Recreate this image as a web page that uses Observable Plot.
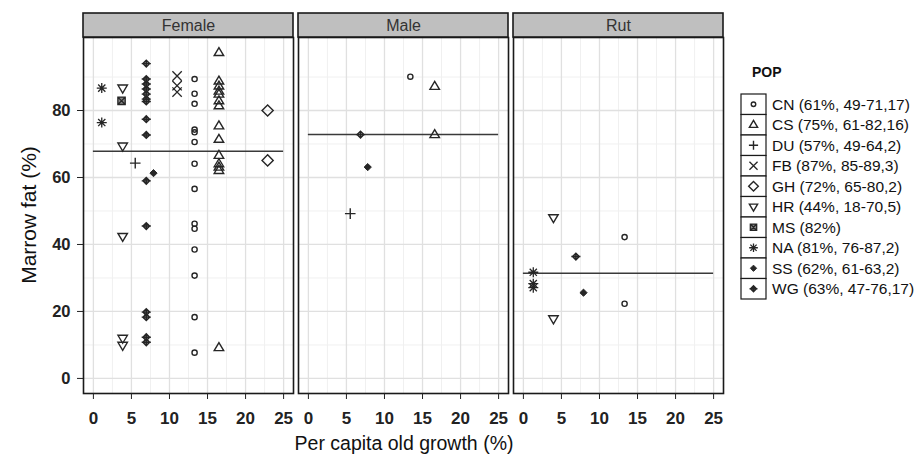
<!DOCTYPE html>
<html><head><meta charset="utf-8">
<script src="https://cdn.jsdelivr.net/npm/d3@7"></script>
<script src="https://cdn.jsdelivr.net/npm/@observablehq/plot@0.6"></script>
<style>
body{margin:0;background:#fff;font-family:"Liberation Sans",Arial,sans-serif;}
#wrap{position:relative;width:922px;height:461px;}
#legend{position:absolute;left:735px;top:0;}
</style></head><body><div id="wrap"></div>
<script>
// ---- data ----
const sexes = ["Female", "Male", "Rut"];
const popCodes = ["CN", "CS", "DU", "FB", "GH", "HR", "MS", "NA", "SS", "WG"];
const popLabels = ["CN (61%, 49-71,17)", "CS (75%, 61-82,16)", "DU (57%, 49-64,2)", "FB (87%, 85-89,3)",
  "GH (72%, 65-80,2)", "HR (44%, 18-70,5)", "MS (82%)", "NA (81%, 76-87,2)", "SS (62%, 61-63,2)", "WG (63%, 47-76,17)"];
const CN = [["Female",13.3,89.4],["Female",13.3,85],["Female",13.3,82],["Female",13.3,74.3],["Female",13.3,73.5],
  ["Female",13.3,70.6],["Female",13.3,64.1],["Female",13.3,56.6],["Female",13.3,46.2],["Female",13.3,44.7],
  ["Female",13.3,38.5],["Female",13.3,30.7],["Female",13.3,18.3],["Female",13.3,7.7],
  ["Male",13.4,90.1],["Rut",13.3,42.2],["Rut",13.3,22.3]];
const CS = [["Female",16.5,97.3],["Female",16.5,88.8],["Female",16.5,87.3],["Female",16.5,85.8],["Female",16.5,84.9],
  ["Female",16.5,82.9],["Female",16.5,81.4],["Female",16.5,75.4],["Female",16.5,71.4],["Female",16.5,66.6],
  ["Female",16.5,64.1],["Female",16.5,63.1],["Female",16.5,62.1],["Female",16.5,9.2],
  ["Male",16.6,87.2],["Male",16.6,72.8]];
const DU = [["Female",5.5,64.3],["Male",5.5,49.2]];
const FB = [["Female",11.0,90.3],["Female",11.0,87.4],["Female",11.0,85.5]];
const GH = [["Female",22.9,80],["Female",22.9,65.1]];
const HR = [["Female",3.85,86.7],["Female",3.85,69.4],["Female",3.85,42.4],["Female",3.85,12],["Female",3.85,9.9],
  ["Rut",3.95,48],["Rut",3.95,17.8]];
const MS = [["Female",3.7,82.9]];
const NA = [["Female",1.1,86.7],["Female",1.1,76.4],["Rut",1.3,31.7],["Rut",1.3,28.3],["Rut",1.3,27.1]];
const SS = [["Female",7.9,61.3],["Male",7.8,63.1],["Rut",7.9,25.6]];
const WG = [["Female",6.95,94],["Female",6.95,89.4],["Female",6.95,87.9],["Female",6.95,86.4],["Female",6.95,84.9],
  ["Female",6.95,83.4],["Female",6.95,82.7],["Female",6.95,77.4],["Female",6.95,72.7],["Female",6.95,59],
  ["Female",6.95,45.5],["Female",6.95,19.8],["Female",6.95,18.3],["Female",6.95,12.3],["Female",6.95,10.8],
  ["Male",6.85,72.8],["Rut",6.9,36.4]];
const meanFat = [67.8, 72.8, 31.4];
const xTicks = [0, 5, 10, 15, 20, 25];
const xMinor = [2.5, 7.5, 12.5, 17.5, 22.5];
const yTicks = [0, 20, 40, 60, 80];
const yMinor = [10, 30, 50, 70, 90];

// ---- symbols (R-like pch shapes) ----
const rad = s => Math.sqrt(s / Math.PI);
const sym = {
  circle: {draw(c, s) {const r = rad(s); c.moveTo(r, 0); c.arc(0, 0, r, 0, 2 * Math.PI);}},
  triUp: {draw(c, s) {const r = rad(s); c.moveTo(0, -r); c.lineTo(r * 0.95, r * 0.6); c.lineTo(-r * 0.95, r * 0.6); c.closePath();}},
  triDown: {draw(c, s) {const r = rad(s); c.moveTo(0, r); c.lineTo(r * 0.95, -r * 0.6); c.lineTo(-r * 0.95, -r * 0.6); c.closePath();}},
  plus: {draw(c, s) {const r = rad(s); c.moveTo(-r, 0); c.lineTo(r, 0); c.moveTo(0, -r); c.lineTo(0, r);}},
  times: {draw(c, s) {const r = rad(s) * 0.72; c.moveTo(-r, -r); c.lineTo(r, r); c.moveTo(-r, r); c.lineTo(r, -r);}},
  diamond: {draw(c, s) {const r = rad(s); c.moveTo(0, -r); c.lineTo(r, 0); c.lineTo(0, r); c.lineTo(-r, 0); c.closePath();}},
  squareCross: {draw(c, s) {const r = rad(s) * 0.8; c.rect(-r, -r, 2 * r, 2 * r); c.moveTo(-r, -r); c.lineTo(r, r); c.moveTo(-r, r); c.lineTo(r, -r);}},
  asterisk: {draw(c, s) {const r = rad(s), q = r * 0.72; c.moveTo(-r, 0); c.lineTo(r, 0); c.moveTo(0, -r); c.lineTo(0, r);
    c.moveTo(-q, -q); c.lineTo(q, q); c.moveTo(-q, q); c.lineTo(q, -q);}},
  diamondPlus: {draw(c, s) {const r = rad(s); c.moveTo(0, -r); c.lineTo(r, 0); c.lineTo(0, r); c.lineTo(-r, 0); c.closePath();
    c.moveTo(-r * 1.35, 0); c.lineTo(r * 1.35, 0); c.moveTo(0, -r); c.lineTo(0, r);}}
};
const ink = "#262626";
const popData = [CN, CS, DU, FB, GH, HR, MS, NA, SS, WG];
const popStyle = [
  {symbol: sym.circle, r: 2.6, fill: "none", sw: 1.4},
  {symbol: sym.triUp, r: 5, fill: "none", sw: 1.4},
  {symbol: sym.plus, r: 5.3, fill: "none", sw: 1.4},
  {symbol: sym.times, r: 6.5, fill: "none", sw: 1.3},
  {symbol: sym.diamond, r: 5.6, fill: "none", sw: 1.4},
  {symbol: sym.triDown, r: 5, fill: "none", sw: 1.4},
  {symbol: sym.squareCross, r: 4.6, fill: "#888", sw: 1.3},
  {symbol: sym.asterisk, r: 5, fill: "none", sw: 1.3},
  {symbol: sym.diamond, r: 3.6, fill: ink, sw: 1},
  {symbol: sym.diamondPlus, r: 3.4, fill: "#9a9a9a", sw: 1.4}
];

// ---- geometry ----
const xDom = [-1.3, 26.3];
const yDom = [-4.5, 101.8];
const panelW = 210.5, gap = 5;
const stripH = 24 / 3.35;

const dotMarks = popCodes.map((p, i) => Plot.dot(popData[i], {
  fx: d => d[0], x: d => d[1], y: d => d[2],
  symbol: popStyle[i].symbol, r: popStyle[i].r, fill: popStyle[i].fill,
  stroke: ink, strokeWidth: popStyle[i].sw
}));

const chart = Plot.plot({
  width: 740, height: 461,
  marginLeft: 82, marginRight: 740 - 82 - (3 * panelW + 2 * gap), marginTop: 37, marginBottom: 68,
  style: {fontFamily: "Liberation Sans, Arial, sans-serif", background: "#fff"},
  fx: {domain: sexes, paddingInner: gap / (panelW + gap), paddingOuter: 0, axis: null},
  x: {domain: xDom},
  y: {domain: yDom},
  marks: [
    Plot.gridX(xMinor, {stroke: "#f0f0f0", strokeOpacity: 1, strokeWidth: 1}),
    Plot.gridY(yMinor, {stroke: "#f0f0f0", strokeOpacity: 1, strokeWidth: 1}),
    Plot.gridX(xTicks, {stroke: "#e0e0e0", strokeOpacity: 1, strokeWidth: 1.3}),
    Plot.gridY(yTicks, {stroke: "#e0e0e0", strokeOpacity: 1, strokeWidth: 1.3}),
    Plot.ruleY(sexes, {fx: d => d, y: (d, i) => meanFat[i], x1: () => 0, x2: () => 25, stroke: "#3a3a3a", strokeWidth: 1.5}),
    ...dotMarks,
    Plot.frame({stroke: "#1a1a1a", strokeWidth: 1.6}),
    Plot.rect(sexes, {fx: d => d, x1: () => xDom[0], x2: () => xDom[1], y1: () => yDom[1], y2: () => yDom[1] + stripH,
      fill: "#bfbfbf", stroke: "#1a1a1a", strokeWidth: 1.6, clip: false}),
    Plot.text(sexes, {fx: d => d, text: d => d, x: () => (xDom[0] + xDom[1]) / 2, y: () => yDom[1] + stripH / 2,
      fontSize: 16, fill: "#333"}),
    Plot.axisY(yTicks, {anchor: "left", tickSize: 6, tickPadding: 7, fontSize: 16.5, fontWeight: "bold",
      color: "#222", label: null}),
    Plot.axisX(xTicks, {anchor: "bottom", tickSize: 6, tickPadding: 12, fontSize: 17, fontWeight: "bold",
      color: "#222", label: null})
  ]
});

const wrap = document.getElementById("wrap");
wrap.appendChild(chart);

// axis titles
const svg = d3.select(chart);
svg.append("text").attr("transform", "translate(30,215) rotate(-90)").attr("text-anchor", "middle")
  .attr("dominant-baseline", "middle").attr("font-size", 21).attr("fill", "#111").text("Marrow fat (%)");
svg.append("text").attr("x", 404).attr("y", 445).attr("text-anchor", "middle")
  .attr("dominant-baseline", "middle").attr("font-size", 19.5).attr("fill", "#111").text("Per capita old growth (%)");

// legend
const lg = d3.select(wrap).append("svg").attr("id", "legend").attr("width", 187).attr("height", 461)
  .style("font-family", "Liberation Sans, Arial, sans-serif");
lg.append("text").attr("x", 17).attr("y", 77).attr("font-size", 14).attr("font-weight", "bold").attr("fill", "#111").text("POP");
const rowH = 20.5, top0 = 94;
popCodes.forEach((p, i) => {
  const y0 = top0 + i * rowH;
  lg.append("rect").attr("x", 6).attr("y", y0).attr("width", 25).attr("height", rowH)
    .attr("fill", "#fff").attr("stroke", "#1a1a1a").attr("stroke-width", 1.2);
  const st = popStyle[i];
  lg.append("path").attr("transform", `translate(18.5,${y0 + rowH / 2})`)
    .attr("d", d3.symbol(st.symbol, Math.PI * st.r * st.r * 0.75)())
    .attr("fill", st.fill).attr("stroke", ink).attr("stroke-width", st.sw);
  lg.append("text").attr("x", 37).attr("y", y0 + rowH / 2).attr("dominant-baseline", "central")
    .attr("font-size", 15.5).attr("fill", "#111").text(popLabels[i]);
});
</script></body></html>
